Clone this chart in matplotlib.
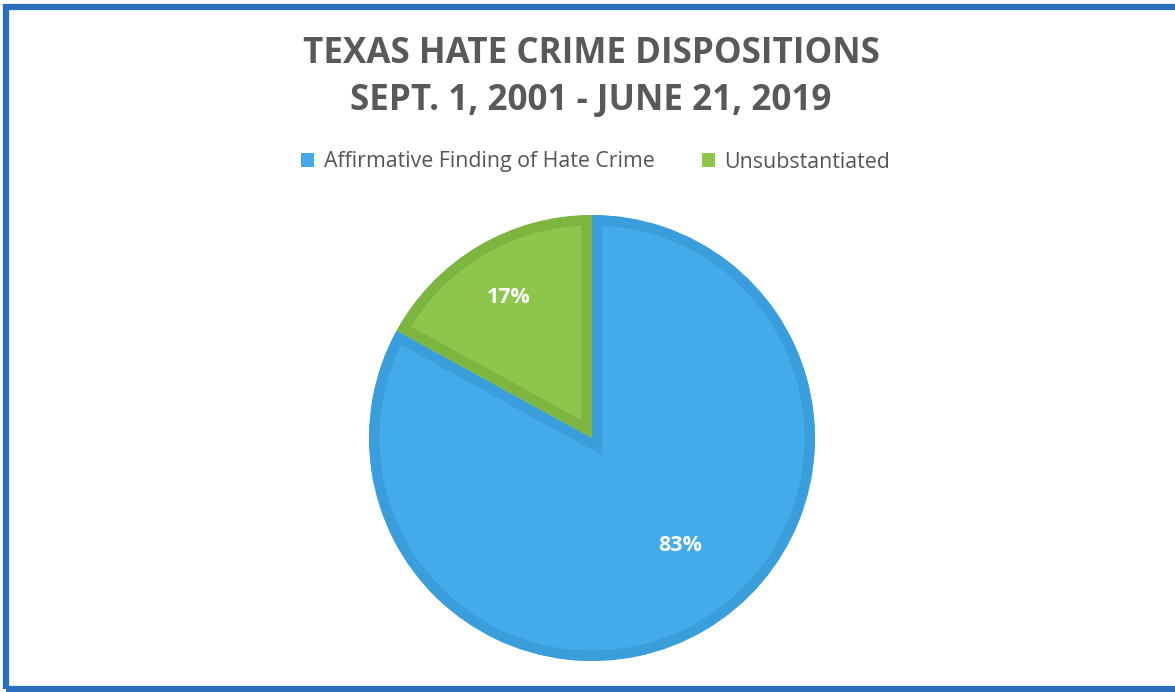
import matplotlib.pyplot as plt
from matplotlib.patches import Rectangle, Patch

plt.rcParams['font.family'] = ['Open Sans', 'DejaVu Sans']

# data
categories = ['Affirmative Finding of Hate Crime', 'Unsubstantiated']
shares = [83, 17]
fill_colors = ['#44abea', '#8cc64b']
edge_colors = ['#3a9ddc', '#7db541']
title_lines = ['TEXAS HATE CRIME DISPOSITIONS', 'SEPT. 1, 2001 - JUNE 21, 2019']

fig = plt.figure(figsize=(11.75, 6.92), dpi=100)
fig.patch.set_facecolor('white')

# blue frame around the chart (right side runs off the image)
frame = Rectangle((5.5 / 1175, 3.5 / 692), 1.02, 1 - 10.5 / 692,
                  transform=fig.transFigure, fill=False,
                  edgecolor='#2a6ebd', linewidth=4.5, clip_on=False)
fig.patches.append(frame)

fig.text(0.503, (692 - 63) / 692, title_lines[0], ha='center', va='baseline',
         fontsize=25.2, fontweight='bold', color='#595959')
fig.text(0.503, (692 - 110) / 692, title_lines[1], ha='center', va='baseline',
         fontsize=25.2, fontweight='bold', color='#595959')

ax = fig.add_axes([369 / 1175, 31 / 692, 446 / 1175, 446 / 692])
wedges, texts, autotexts = ax.pie(shares, colors=fill_colors, startangle=90,
                                  counterclock=False, autopct='%d%%',
                                  pctdistance=0.7,
                                  textprops=dict(color='white', fontsize=15.5,
                                                 fontweight='bold'))
# inner border in a darker shade: stroke clipped to each wedge
for w, ec in zip(wedges, edge_colors):
    w.set_edgecolor(ec)
    w.set_linewidth(15)
    w.set_clip_on(True)
    w.set_clip_path(w)

autotexts[0].set_position((0.395, -0.48))
autotexts[1].set_position((-0.372, 0.628))
ax.set_xlim(-1, 1)
ax.set_ylim(-1, 1)
ax.set_aspect('equal')
ax.axis('off')

handles = [Patch(facecolor=c, edgecolor='none') for c in fill_colors]
fig.legend(handles, categories, loc='center', bbox_to_anchor=(0.507, (692 - 162) / 692),
           ncol=2, frameon=False, fontsize=15.4, labelcolor='#555555',
           handlelength=0.6, handleheight=0.6, handletextpad=0.45,
           columnspacing=2.2)

fig.savefig('out.png', dpi=100)
